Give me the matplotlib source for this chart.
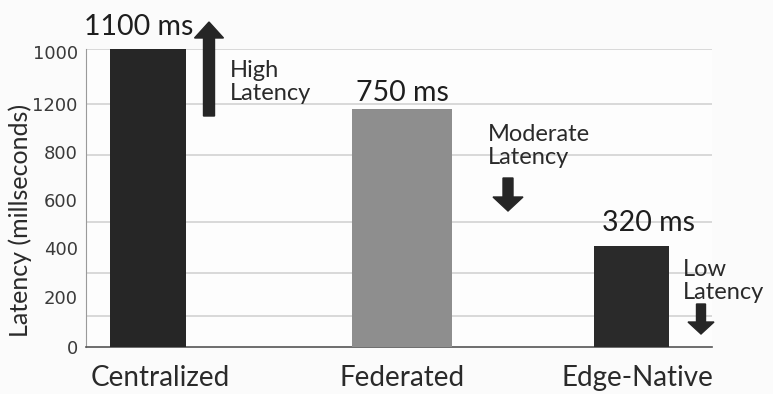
import matplotlib
matplotlib.use("Agg")
import matplotlib.pyplot as plt
from matplotlib.patches import FancyArrow
from matplotlib.transforms import IdentityTransform

# chart data
categories = ["Centralized", "Federated", "Edge-Native"]
latency_ms = [1100, 750, 320]
bar_colors = ["#262626", "#8e8e8e", "#2a2a2a"]
tick_labels = ["0", "200", "400", "600", "800", "1200", "1000"]
notes = ["High\nLatency", "Moderate\nLatency", "Low\nLatency"]

W, H = 773, 394
Y_TOP = 940


def fig_xy(x, y):
    """pixel position measured from the top-left corner -> figure fraction"""
    return x / W, 1 - y / H


def main():
    fig = plt.figure(figsize=(W / 100, H / 100), dpi=100)
    fig.patch.set_facecolor("#fbfbfb")
    ax = fig.add_axes([86 / W, 47 / H, 626 / W, 298 / H])
    ax.set_facecolor("#fdfdfd")

    bar_x = [0.099, 0.505, 0.872]
    bar_w = [0.121, 0.160, 0.120]
    ax.bar(bar_x, latency_ms, width=bar_w, color=bar_colors, zorder=3)
    ax.set_xlim(0, 1)
    ax.set_ylim(0, Y_TOP)

    # light horizontal guide lines
    for frac in [0.815, 0.644, 0.419, 0.248, 0.104, 1.0]:
        ax.axhline(frac * Y_TOP, color="#d2d2d2", lw=1.2, zorder=1)

    tick_fracs = [0, 0.168, 0.332, 0.493, 0.654, 0.817, 0.99]
    ax.set_yticks([f * Y_TOP for f in tick_fracs])
    ax.set_yticklabels(tick_labels, fontsize=13, color="#3a3a3a")
    ax.tick_params(axis="y", length=0, pad=6)
    ax.set_xticks([])

    for side in ["top", "right"]:
        ax.spines[side].set_visible(False)
    ax.spines["left"].set_color("#9a9a9a")
    ax.spines["bottom"].set_color("#555555")
    ax.spines["bottom"].set_linewidth(1.2)

    ax.set_ylabel("Latency (millseconds)", fontsize=18, color="#2a2a2a",
                  family="Lato")
    ax.yaxis.set_label_coords(-0.087, 0.425)

    # category names under the bars
    for name, x in zip(categories, [160, 402, 637]):
        fig.text(*fig_xy(x, 378), name, ha="center", va="center",
                 fontsize=20, family="Lato", color="#2a2a2a")

    # value labels over the bars
    for v, (x, y) in zip(latency_ms, [(139, 27), (402, 93), (648, 223)]):
        fig.text(*fig_xy(x, y), f"{v} ms", ha="center", va="center",
                 fontsize=20.5, family="Lato", color="#1e1e1e")

    for note, (x, y) in zip(notes, [(230, 82), (488, 146), (683, 281)]):
        fig.text(*fig_xy(x, y), note, ha="left", va="center",
                 fontsize=17, family="Lato", color="#2a2a2a",
                 linespacing=1.12)

    # direction arrows, in pixel units (y measured from the bottom)
    arrows = [
        (209, 116, 22, 11, 29, 16),
        (508, 178, 211, 10, 30, 14),
        (701, 304, 334, 9, 26, 12),
    ]
    for x, y0, y1, w, hw, hl in arrows:
        fig.add_artist(FancyArrow(
            x, H - y0, 0, (H - y1) - (H - y0), width=w, head_width=hw,
            head_length=hl, length_includes_head=True,
            color="#262626", transform=IdentityTransform()))

    fig.savefig("out.png", dpi=100, facecolor=fig.get_facecolor())


if __name__ == "__main__":
    main()
